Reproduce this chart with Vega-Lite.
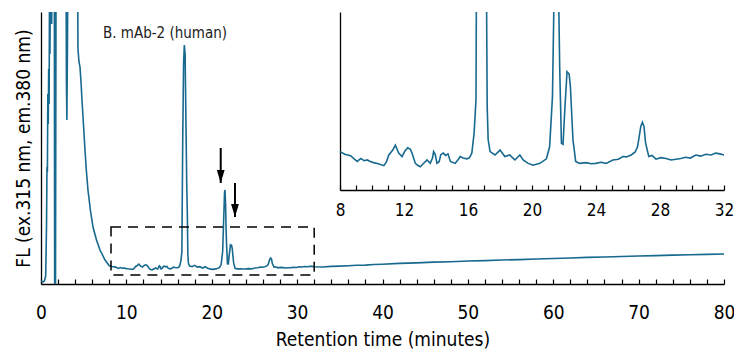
{
  "$schema": "https://vega.github.io/schema/vega-lite/v6.json",
  "width": 683,
  "height": 272,
  "autosize": "none",
  "padding": {"left": 41, "top": 12, "right": 10, "bottom": 65},
  "background": "white",
  "config": {
    "view": {"stroke": null},
    "axis": {"labelFont": "DejaVu Sans Condensed, Liberation Sans Narrow, Roboto, sans-serif", "titleFont": "DejaVu Sans Condensed, Liberation Sans Narrow, Roboto, sans-serif", "labelColor": "black", "titleColor": "black", "domainColor": "black", "tickColor": "black", "grid": false, "titleFontWeight": "normal", "domainWidth": 1.3, "tickWidth": 1.2, "labelOverlap": false, "labelFlush": false}
  },
  "datasets": {
    "trace": [
      {"t":0,"v":3},{"t":0.2,"v":2},{"t":0.4,"v":3},{"t":0.55,"v":8},{"t":0.65,"v":60},{"t":0.7,"v":117},{"t":0.75,"v":112},{"t":0.8,"v":190},{"t":0.85,"v":160},{"t":0.9,"v":215},{"t":0.95,"v":180},{"t":1.0,"v":300},{"t":1.05,"v":230},{"t":1.15,"v":400},{"t":1.25,"v":260},{"t":1.35,"v":400},{"t":1.55,"v":400},{"t":1.6,"v":0},{"t":1.7,"v":0},{"t":1.78,"v":400},{"t":2.9,"v":400},{"t":2.98,"v":200},{"t":3.03,"v":164},{"t":3.1,"v":240},{"t":3.2,"v":400},{"t":4.25,"v":400},{"t":4.33,"v":235},{"t":4.45,"v":222},{"t":4.57,"v":217},{"t":4.7,"v":200},{"t":4.8,"v":184},{"t":5.0,"v":156},{"t":5.15,"v":134},{"t":5.3,"v":115},{"t":5.5,"v":94},{"t":5.8,"v":73},{"t":6.09,"v":57},{"t":6.5,"v":44},{"t":6.91,"v":34},{"t":7.5,"v":24},
      {"t":8.0,"v":18.2},{"t":8.3,"v":17.5},{"t":8.66,"v":17.1},{"t":8.9,"v":16.2},{"t":9.08,"v":15.6},{"t":9.3,"v":16.4},{"t":9.5,"v":15.8},{"t":9.7,"v":16},{"t":9.9,"v":15.6},{"t":10.1,"v":15.3},{"t":10.4,"v":15},{"t":10.74,"v":14.5},{"t":10.9,"v":15.5},{"t":11.05,"v":17.3},{"t":11.3,"v":18.6},{"t":11.46,"v":19.9},{"t":11.6,"v":18.5},{"t":11.67,"v":17.8},{"t":11.88,"v":16.9},{"t":12.05,"v":18.3},{"t":12.23,"v":19.2},{"t":12.4,"v":18.8},{"t":12.5,"v":17.8},{"t":12.71,"v":15.1},{"t":12.85,"v":14.6},{"t":13.02,"v":14.2},{"t":13.2,"v":15},{"t":13.44,"v":16},{"t":13.64,"v":15.1},{"t":13.78,"v":16.5},{"t":13.85,"v":18.2},{"t":13.95,"v":17.5},{"t":14.06,"v":15.1},{"t":14.2,"v":15.6},{"t":14.3,"v":17.4},{"t":14.45,"v":17.8},{"t":14.6,"v":17.2},{"t":14.75,"v":17.6},{"t":14.9,"v":15.6},{"t":15.2,"v":15.1},{"t":15.4,"v":16.2},{"t":15.51,"v":16.9},{"t":15.7,"v":16.5},{"t":15.93,"v":16.3},{"t":16.1,"v":16.6},{"t":16.24,"v":17.8},{"t":16.38,"v":23},{"t":16.5,"v":31.8},{"t":16.6,"v":144},{"t":16.7,"v":220},{"t":16.79,"v":239},{"t":16.88,"v":230},{"t":16.98,"v":160},{"t":17.07,"v":100},{"t":17.14,"v":71},{"t":17.2,"v":30},{"t":17.26,"v":21.3},{"t":17.38,"v":18.2},{"t":17.69,"v":17.3},{"t":18.0,"v":18.6},{"t":18.3,"v":16.9},{"t":18.6,"v":17.3},{"t":18.93,"v":16},{"t":19.24,"v":17.3},{"t":19.45,"v":16},{"t":19.76,"v":15.1},{"t":20.07,"v":14.6},{"t":20.49,"v":15.1},{"t":20.9,"v":16.3},{"t":21.1,"v":19.4},{"t":21.28,"v":32.7},{"t":21.38,"v":60},{"t":21.5,"v":92},{"t":21.55,"v":94},{"t":21.62,"v":80},{"t":21.68,"v":55},{"t":21.73,"v":40.6},{"t":21.84,"v":20.4},{"t":21.94,"v":20.1},{"t":22.05,"v":29.2},{"t":22.19,"v":39.2},{"t":22.32,"v":38.6},{"t":22.4,"v":35.3},{"t":22.56,"v":21.3},{"t":22.73,"v":15.6},{"t":22.98,"v":15.1},{"t":23.39,"v":15.3},{"t":23.7,"v":15.0},{"t":24.0,"v":15.1},{"t":24.3,"v":15.4},{"t":24.64,"v":15.1},{"t":25.05,"v":16},{"t":25.4,"v":16.2},{"t":25.68,"v":16.9},{"t":25.9,"v":16.8},{"t":26.2,"v":17.3},{"t":26.45,"v":18.1},{"t":26.6,"v":19.5},{"t":26.8,"v":24.8},{"t":26.9,"v":25.9},{"t":27.0,"v":24.8},{"t":27.1,"v":20.4},{"t":27.3,"v":16.9},{"t":27.5,"v":17.2},{"t":27.75,"v":16.2},{"t":28.05,"v":16.6},{"t":28.37,"v":16.4},{"t":28.7,"v":16.0},{"t":29.0,"v":16.2},{"t":29.3,"v":16.4},{"t":29.6,"v":16.7},{"t":29.9,"v":16.5},{"t":30.24,"v":17.3},{"t":30.55,"v":17.0},{"t":30.86,"v":17.5},{"t":31.2,"v":17.3},{"t":31.48,"v":17.8},{"t":31.75,"v":17.6},{"t":32.0,"v":17.3},
      {"t":33,"v":17.0},{"t":34,"v":17.6},{"t":35,"v":17.9},{"t":36,"v":18.3},{"t":37,"v":18.8},{"t":38,"v":18.9},{"t":39,"v":19.5},{"t":40,"v":19.8},{"t":42,"v":20.6},{"t":44,"v":21.1},{"t":46,"v":21.9},{"t":48,"v":22.3},{"t":50,"v":23.0},{"t":52,"v":23.4},{"t":54,"v":24.0},{"t":56,"v":24.4},{"t":58,"v":25.0},{"t":60,"v":25.5},{"t":62,"v":26.0},{"t":64,"v":26.6},{"t":66,"v":27.0},{"t":68,"v":27.5},{"t":70,"v":28.0},{"t":72,"v":28.4},{"t":74,"v":28.9},{"t":76,"v":29.2},{"t":78,"v":29.6},{"t":80,"v":30.0}
    ],
    "box": [{"x1": 8.2, "x2": 32, "y1": 9, "y2": 57}],
    "arrows": [{"t": 21.05, "top": 136, "tip": 101}, {"t": 22.72, "top": 101, "tip": 67}],
    "label": [{"t": 7.26, "v": 246.5, "text": "B. mAb-2 (human)"}]
  },
  "layer": [
    {
      "data": {"name": "trace"},
      "mark": {"type": "line", "color": "#17698f", "strokeWidth": 1.6, "clip": true},
      "encoding": {
        "x": {"field": "t", "type": "quantitative", "scale": {"domain": [0, 80], "nice": false, "zero": false},
          "axis": {"orient": "bottom", "title": "Retention time (minutes)", "values": [0,2,4,6,8,10,12,14,16,18,20,22,24,26,28,30,32,34,36,38,40,42,44,46,48,50,52,54,56,58,60,62,64,66,68,70,72,74,76,78,80],
            "labelExpr": "datum.value % 10 === 0 ? datum.label : ''", "tickSize": -5, "labelFontSize": 19, "labelPadding": 24, "titleFontSize": 19, "titlePadding": 8}},
        "y": {"field": "v", "type": "quantitative", "scale": {"domain": [0, 272], "nice": false, "zero": false},
          "axis": {"orient": "left", "title": "FL (ex.315 nm, em.380 nm)", "ticks": false, "labels": false, "titleFontSize": 19, "titlePadding": 8}}
      }
    },
    {
      "data": {"name": "box"},
      "mark": {"type": "rect", "fill": null, "fillOpacity": 0, "stroke": "black", "strokeWidth": 1.5, "strokeDash": [10, 7]},
      "encoding": {
        "x": {"field": "x1", "type": "quantitative", "scale": {"domain": [0, 80], "nice": false, "zero": false}, "axis": null},
        "x2": {"field": "x2"},
        "y": {"field": "y1", "type": "quantitative", "scale": {"domain": [0, 272], "nice": false, "zero": false}, "axis": null},
        "y2": {"field": "y2"}
      }
    },
    {
      "data": {"name": "arrows"},
      "mark": {"type": "rule", "color": "black", "strokeWidth": 2},
      "encoding": {
        "x": {"field": "t", "type": "quantitative", "scale": {"domain": [0, 80], "nice": false, "zero": false}, "axis": null},
        "y": {"field": "top", "type": "quantitative", "scale": {"domain": [0, 272], "nice": false, "zero": false}, "axis": null},
        "y2": {"field": "tip"}
      }
    },
    {
      "data": {"name": "arrows"},
      "mark": {"type": "point", "shape": "M-0.6,-2L0.6,-2L0,0Z", "size": 169, "filled": true, "color": "black", "opacity": 1},
      "encoding": {
        "x": {"field": "t", "type": "quantitative", "scale": {"domain": [0, 80], "nice": false, "zero": false}, "axis": null},
        "y": {"field": "tip", "type": "quantitative", "scale": {"domain": [0, 272], "nice": false, "zero": false}, "axis": null}
      }
    },
    {
      "data": {"name": "label"},
      "mark": {"type": "text", "font": "DejaVu Sans Condensed, Liberation Sans Narrow, Roboto, sans-serif", "fontSize": 15, "align": "left", "baseline": "alphabetic", "color": "#222"},
      "encoding": {
        "x": {"field": "t", "type": "quantitative", "scale": {"domain": [0, 80], "nice": false, "zero": false}, "axis": null},
        "y": {"field": "v", "type": "quantitative", "scale": {"domain": [0, 272], "nice": false, "zero": false}, "axis": null},
        "text": {"field": "text"}
      }
    },
    {
      "data": {"name": "trace"},
      "transform": [{"filter": "datum.t >= 8 && datum.t <= 32"}],
      "mark": {"type": "line", "color": "#17698f", "strokeWidth": 1.6, "clip": true},
      "encoding": {
        "x": {"field": "t", "type": "quantitative", "scale": {"domain": [8, 32], "range": [299, 683], "nice": false, "zero": false},
          "axis": {"orient": "bottom", "offset": -94, "title": null, "values": [8,9,10,11,12,13,14,15,16,17,18,19,20,21,22,23,24,25,26,27,28,29,30,31,32],
            "labelExpr": "datum.value % 4 === 0 ? datum.label : ''", "tickSize": -5, "labelFontSize": 17, "labelPadding": 17}},
        "y": {"field": "v", "type": "quantitative", "scale": {"domain": [8.1, 54.9], "range": [178, 0], "nice": false, "zero": false},
          "axis": {"orient": "left", "offset": -299, "title": null, "ticks": false, "labels": false}}
      }
    }
  ],
  "resolve": {"scale": {"x": "independent", "y": "independent"}, "axis": {"x": "independent", "y": "independent"}}
}
